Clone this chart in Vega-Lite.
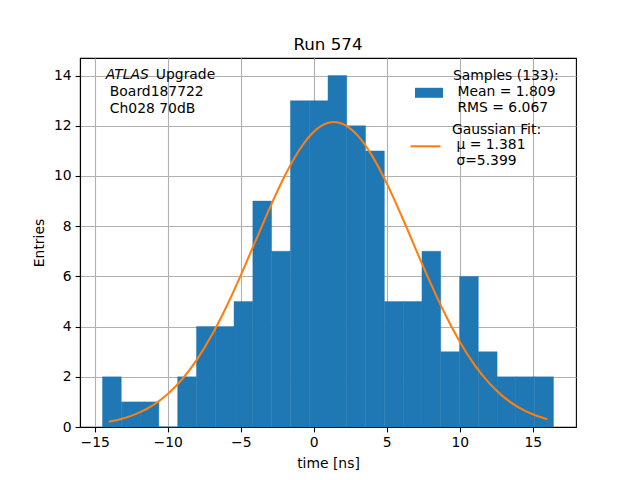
{
  "$schema": "https://vega.github.io/schema/vega-lite/v6.json",
  "width": 496,
  "height": 369,
  "autosize": "none",
  "padding": {"left": 80, "top": 58, "right": 64, "bottom": 53},
  "background": "white",
  "title": {
    "text": "Run 574",
    "fontSize": 16.7,
    "fontWeight": "normal",
    "font": "DejaVu Sans",
    "color": "black",
    "baseline": "alphabetic",
    "offset": -9
  },
  "config": {
    "font": "DejaVu Sans",
    "view": {"stroke": "black", "strokeWidth": 1.1},
    "axis": {
      "grid": true,
      "gridColor": "#b0b0b0",
      "gridWidth": 1.1,
      "domainColor": "black",
      "domainWidth": 1.1,
      "tickColor": "black",
      "tickSize": 4.9,
      "tickWidth": 1.1,
      "labelFont": "DejaVu Sans",
      "labelFontSize": 13.9,
      "labelColor": "black",
      "labelPadding": 4,
      "titleFont": "DejaVu Sans",
      "titleFontSize": 13.9,
      "titleFontWeight": "normal",
      "titleColor": "black",
      "zindex": 1
    },
    "legend": {
      "labelFont": "DejaVu Sans",
      "labelFontSize": 13.9,
      "labelColor": "black",
      "labelLimit": 300,
      "padding": 0
    }
  },
  "layer": [
    {
      "data": {
        "values": [
          {"start": -14.470, "end": -13.183, "count": 2},
          {"start": -13.183, "end": -11.896, "count": 1},
          {"start": -11.896, "end": -10.609, "count": 1},
          {"start": -10.609, "end": -9.322, "count": 0},
          {"start": -9.322, "end": -8.035, "count": 2},
          {"start": -8.035, "end": -6.748, "count": 4},
          {"start": -6.748, "end": -5.461, "count": 4},
          {"start": -5.461, "end": -4.174, "count": 5},
          {"start": -4.174, "end": -2.887, "count": 9},
          {"start": -2.887, "end": -1.600, "count": 7},
          {"start": -1.600, "end": -0.313, "count": 13},
          {"start": -0.313, "end": 0.974, "count": 13},
          {"start": 0.974, "end": 2.261, "count": 14},
          {"start": 2.261, "end": 3.548, "count": 12},
          {"start": 3.548, "end": 4.835, "count": 11},
          {"start": 4.835, "end": 6.122, "count": 5},
          {"start": 6.122, "end": 7.409, "count": 5},
          {"start": 7.409, "end": 8.696, "count": 7},
          {"start": 8.696, "end": 9.983, "count": 3},
          {"start": 9.983, "end": 11.270, "count": 6},
          {"start": 11.270, "end": 12.557, "count": 3},
          {"start": 12.557, "end": 13.844, "count": 2},
          {"start": 13.844, "end": 15.131, "count": 2},
          {"start": 15.131, "end": 16.418, "count": 2}
        ]
      },
      "mark": {"type": "rect", "strokeWidth": 0.4, "stroke": "#1f77b4"},
      "encoding": {
        "x": {
          "field": "start",
          "type": "quantitative",
          "scale": {"domain": [-16.01, 17.96], "nice": false, "zero": false},
          "axis": {"values": [-15, -10, -5, 0, 5, 10, 15], "title": "time [ns]", "titlePadding": 7}
        },
        "x2": {"field": "end"},
        "y": {
          "field": "count",
          "type": "quantitative",
          "scale": {"domain": [0, 14.7], "nice": false},
          "axis": {"values": [0, 2, 4, 6, 8, 10, 12, 14], "title": "Entries", "titlePadding": 7}
        },
        "fill": {
          "datum": "Samples",
          "type": "nominal",
          "scale": {"range": ["#1f77b4"]},
          "legend": {
            "title": null,
            "orient": "none",
            "legendX": 335,
            "legendY": 4,
            "symbolType": "M-1,0.843H1V1.557H-1Z",
            "symbolSize": 784,
            "symbolStrokeWidth": 0,
            "labelOffset": 10,
            "labelExpr": "['Samples (133):', '\u200b\u00a0Mean = 1.809', '\u200b\u00a0RMS = 6.067']"
          }
        }
      }
    },
    {
      "data": {
        "values": [
          {"t": -14.04, "fit": 0.206},
          {"t": -13, "fit": 0.350},
          {"t": -12, "fit": 0.563},
          {"t": -11, "fit": 0.876},
          {"t": -10, "fit": 1.317},
          {"t": -9, "fit": 1.913},
          {"t": -8, "fit": 2.686},
          {"t": -7, "fit": 3.642},
          {"t": -6, "fit": 4.772},
          {"t": -5, "fit": 6.043},
          {"t": -4, "fit": 7.394},
          {"t": -3, "fit": 8.742},
          {"t": -2, "fit": 9.987},
          {"t": -1, "fit": 11.024},
          {"t": 0, "fit": 11.759},
          {"t": 1, "fit": 12.120},
          {"t": 1.381, "fit": 12.150},
          {"t": 2, "fit": 12.070},
          {"t": 3, "fit": 11.616},
          {"t": 4, "fit": 10.801},
          {"t": 5, "fit": 9.706},
          {"t": 6, "fit": 8.426},
          {"t": 7, "fit": 7.069},
          {"t": 8, "fit": 5.731},
          {"t": 9, "fit": 4.489},
          {"t": 10, "fit": 3.398},
          {"t": 11, "fit": 2.485},
          {"t": 12, "fit": 1.756},
          {"t": 13, "fit": 1.199},
          {"t": 14, "fit": 0.791},
          {"t": 15, "fit": 0.505},
          {"t": 16, "fit": 0.311}
        ]
      },
      "mark": {"type": "line", "interpolate": "monotone", "strokeWidth": 2.08},
      "encoding": {
        "x": {"field": "t", "type": "quantitative"},
        "y": {"field": "fit", "type": "quantitative"},
        "stroke": {
          "datum": "Gaussian",
          "type": "nominal",
          "scale": {"range": ["#ff7f0e"]},
          "legend": {
            "title": null,
            "orient": "none",
            "legendX": 329,
            "legendY": 55,
            "symbolType": "M-1,1.12H1",
            "symbolSize": 900,
            "symbolFillColor": "transparent",
            "symbolStrokeWidth": 2.08,
            "labelOffset": 10,
            "labelExpr": "['Gaussian Fit:', '\u200b\u00a0\u03bc = 1.381', '\u200b\u00a0\u03c3=5.399']"
          }
        }
      }
    },
    {
      "data": {"values": [{}]},
      "mark": {"type": "text", "text": "ATLAS", "fontStyle": "italic", "align": "left", "baseline": "alphabetic", "fontSize": 13.9, "color": "black"},
      "encoding": {"x": {"datum": -14.24}, "y": {"datum": 13.88}}
    },
    {
      "data": {"values": [{}]},
      "mark": {"type": "text", "text": "Upgrade", "align": "left", "baseline": "alphabetic", "fontSize": 13.9, "color": "black", "dx": 50},
      "encoding": {"x": {"datum": -14.24}, "y": {"datum": 13.88}}
    },
    {
      "data": {"values": [{}]},
      "mark": {"type": "text", "text": ["Board187722", "Ch028 70dB"], "align": "left", "baseline": "alphabetic", "fontSize": 13.9, "lineHeight": 16.8, "color": "black", "dx": 4},
      "encoding": {"x": {"datum": -14.24}, "y": {"datum": 13.18}}
    }
  ]
}
